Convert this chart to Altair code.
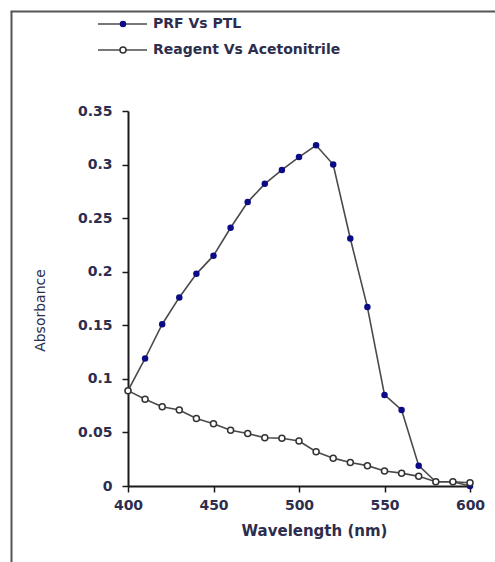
import altair as alt
import pandas as pd

# ---- data ----
wavelength = [400, 410, 420, 430, 440, 450, 460, 470, 480, 490, 500,
              510, 520, 530, 540, 550, 560, 570, 580, 590, 600]
prf_vs_ptl = [0.089, 0.119, 0.151, 0.176, 0.198, 0.215, 0.241, 0.265, 0.282, 0.295, 0.307,
              0.318, 0.300, 0.231, 0.167, 0.085, 0.071, 0.019, 0.004, 0.004, 0.0]
reagent_vs_acetonitrile = [0.089, 0.081, 0.074, 0.071, 0.063, 0.058, 0.052, 0.049, 0.045, 0.0445, 0.042,
                           0.032, 0.026, 0.022, 0.019, 0.014, 0.012, 0.009, 0.004, 0.004, 0.003]
series_names = ["PRF Vs PTL", "Reagent Vs Acetonitrile"]
x_ticks = [400, 450, 500, 550, 600]
y_ticks = [0, 0.05, 0.1, 0.15, 0.2, 0.25, 0.3, 0.35]

prf = pd.DataFrame({"wavelength": wavelength, "absorbance": prf_vs_ptl})
rea = pd.DataFrame({"wavelength": wavelength, "absorbance": reagent_vs_acetonitrile})
one = pd.DataFrame({"k": [0]})

TXT = "#2d2d4d"
LINE = "#4a4a4a"
BLUE = "#0b0b85"

x_enc = alt.X(
    "wavelength:Q",
    scale=alt.Scale(domain=[400, 600], nice=False, zero=False),
    axis=alt.Axis(
        values=x_ticks, title="Wavelength (nm)", grid=False,
        domainColor="#1a1a1a", domainWidth=2, tickColor="#1a1a1a", tickWidth=1.5, tickSize=6,
        labelFont="DejaVu Sans", labelFontWeight="bold", labelFontSize=14, labelColor=TXT,
        labelPadding=6, labelFlush=False,
        titleFont="DejaVu Sans", titleFontWeight="bold", titleFontSize=15, titleColor=TXT,
        titleX=186, titleY=44, titleBaseline="middle", titleAlign="center",
    ),
)
y_enc = alt.Y(
    "absorbance:Q",
    scale=alt.Scale(domain=[0, 0.35], nice=False),
    axis=alt.Axis(
        values=y_ticks, labelExpr="format(datum.value, '~g')", title="Absorbance", grid=False,
        domainColor="#1a1a1a", domainWidth=2, tickColor="#1a1a1a", tickWidth=1.5, tickSize=6,
        labelFont="DejaVu Sans", labelFontWeight="bold", labelFontSize=14, labelColor=TXT,
        labelPadding=10, labelFlush=False,
        titleFont="DejaVu Sans", titleFontWeight="normal", titleFontSize=14, titleColor=TXT,
        titleX=-88, titleY=199, titleBaseline="middle", titleAlign="center", titleAngle=270,
    ),
)

prf_line = alt.Chart(prf).mark_line(color=LINE, strokeWidth=1.6).encode(x=x_enc, y=y_enc)
prf_pts = alt.Chart(prf).mark_point(
    shape="circle", filled=True, color=BLUE, size=42, opacity=1
).encode(x=x_enc, y=y_enc)
rea_line = alt.Chart(rea).mark_line(color=LINE, strokeWidth=1.6).encode(x=x_enc, y=y_enc)
rea_pts = alt.Chart(rea).mark_point(
    shape="circle", fill="white", fillOpacity=1, stroke="#333333", strokeWidth=1.5, size=36, opacity=1
).encode(x=x_enc, y=y_enc)

# ---- manual legend (top-left, outside plot area) ----
leg_y = [-87, -61]
leg_line1 = alt.Chart(one).mark_rule(color=LINE, strokeWidth=1.6).encode(
    x=alt.value(-30), x2=alt.value(19), y=alt.value(leg_y[0]))
leg_pt1 = alt.Chart(one).mark_point(shape="circle", filled=True, color=BLUE, size=42, opacity=1).encode(
    x=alt.value(-5), y=alt.value(leg_y[0]))
leg_txt1 = alt.Chart(one).mark_text(
    align="left", baseline="middle", font="DejaVu Sans", fontWeight="bold", fontSize=14, color=TXT
).encode(x=alt.value(25), y=alt.value(leg_y[0]), text=alt.value(series_names[0]))
leg_line2 = alt.Chart(one).mark_rule(color=LINE, strokeWidth=1.6).encode(
    x=alt.value(-30), x2=alt.value(19), y=alt.value(leg_y[1]))
leg_pt2 = alt.Chart(one).mark_point(
    shape="circle", fill="white", fillOpacity=1, stroke="#333333", strokeWidth=1.5, size=36, opacity=1
).encode(x=alt.value(-5), y=alt.value(leg_y[1]))
leg_txt2 = alt.Chart(one).mark_text(
    align="left", baseline="middle", font="DejaVu Sans", fontWeight="bold", fontSize=14, color=TXT
).encode(x=alt.value(25), y=alt.value(leg_y[1]), text=alt.value(series_names[1]))

# ---- outer frame (left and top edges) ----
frame_left = alt.Chart(one).mark_rule(color="#555555", strokeWidth=2).encode(
    x=alt.value(-116.5), y=alt.value(-99.5), y2=alt.value(470))
frame_top = alt.Chart(one).mark_rule(color="#555555", strokeWidth=2).encode(
    x=alt.value(-117.5), x2=alt.value(390), y=alt.value(-99.5))

chart = alt.layer(
    frame_left, frame_top,
    prf_line, prf_pts, rea_line, rea_pts,
    leg_line1, leg_pt1, leg_txt1, leg_line2, leg_pt2, leg_txt2,
).properties(
    width=342, height=375,
    padding={"left": 128, "top": 111, "right": 25, "bottom": 76},
    autosize=alt.AutoSizeParams(type="none"),
    background="white",
).configure_view(stroke="transparent")

chart.save("out.html", embed_options={"renderer": "svg", "actions": False})
